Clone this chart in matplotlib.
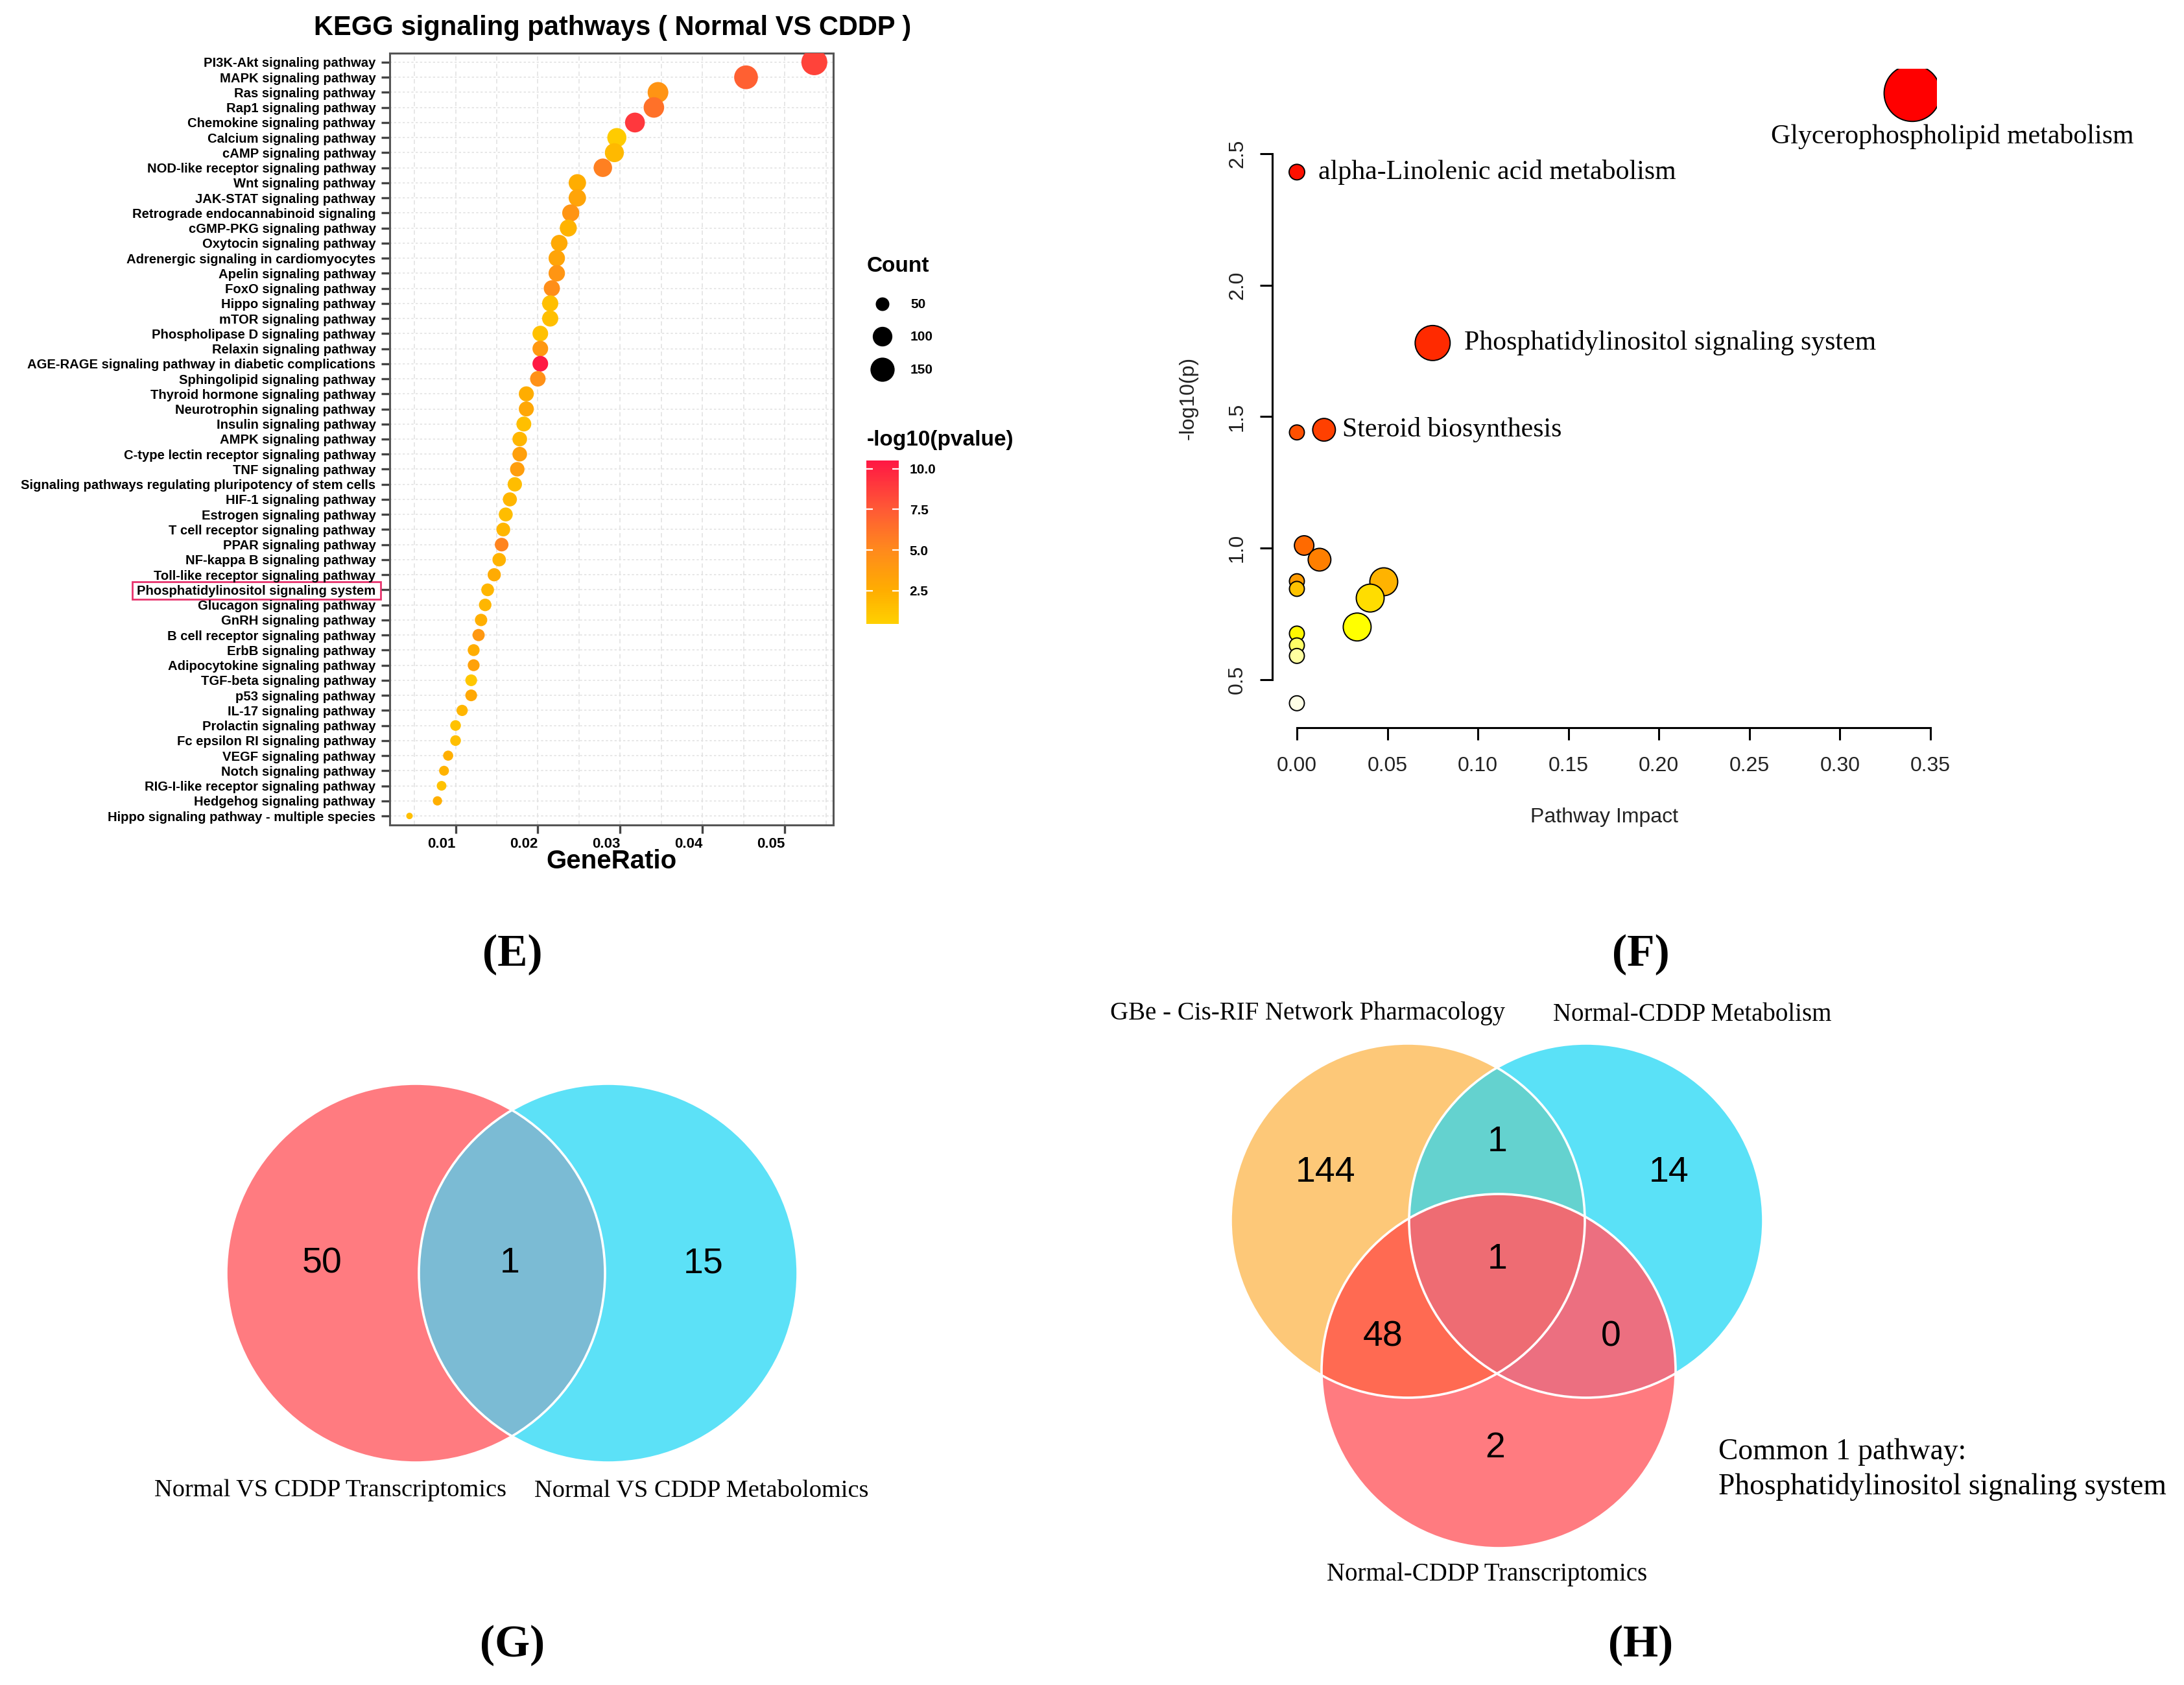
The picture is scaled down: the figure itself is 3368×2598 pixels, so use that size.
import numpy as np
import matplotlib
matplotlib.use('Agg')
import matplotlib.pyplot as plt
from matplotlib.colors import LinearSegmentedColormap, Normalize, to_rgba
from matplotlib.patches import Circle, Rectangle
import matplotlib.cm as cm

W, H = 3368, 2598
DPI = 200
PX = 72.0 / DPI  # points per pixel

SANS = ['Liberation Sans', 'DejaVu Sans']
SERIF = ['Liberation Serif', 'DejaVu Serif']

# ---------------- panel E data (KEGG dot plot) ----------------
pathways = [
    'PI3K-Akt signaling pathway', 'MAPK signaling pathway', 'Ras signaling pathway',
    'Rap1 signaling pathway', 'Chemokine signaling pathway', 'Calcium signaling pathway',
    'cAMP signaling pathway', 'NOD-like receptor signaling pathway', 'Wnt signaling pathway',
    'JAK-STAT signaling pathway', 'Retrograde endocannabinoid signaling',
    'cGMP-PKG signaling pathway', 'Oxytocin signaling pathway',
    'Adrenergic signaling in cardiomyocytes', 'Apelin signaling pathway',
    'FoxO signaling pathway', 'Hippo signaling pathway', 'mTOR signaling pathway',
    'Phospholipase D signaling pathway', 'Relaxin signaling pathway',
    'AGE-RAGE signaling pathway in diabetic complications', 'Sphingolipid signaling pathway',
    'Thyroid hormone signaling pathway', 'Neurotrophin signaling pathway',
    'Insulin signaling pathway', 'AMPK signaling pathway',
    'C-type lectin receptor signaling pathway', 'TNF signaling pathway',
    'Signaling pathways regulating pluripotency of stem cells', 'HIF-1 signaling pathway',
    'Estrogen signaling pathway', 'T cell receptor signaling pathway',
    'PPAR signaling pathway', 'NF-kappa B signaling pathway',
    'Toll-like receptor signaling pathway', 'Phosphatidylinositol signaling system',
    'Glucagon signaling pathway', 'GnRH signaling pathway',
    'B cell receptor signaling pathway', 'ErbB signaling pathway',
    'Adipocytokine signaling pathway', 'TGF-beta signaling pathway',
    'p53 signaling pathway', 'IL-17 signaling pathway', 'Prolactin signaling pathway',
    'Fc epsilon RI signaling pathway', 'VEGF signaling pathway',
    'Notch signaling pathway', 'RIG-I-like receptor signaling pathway',
    'Hedgehog signaling pathway', 'Hippo signaling pathway - multiple species',
]
gene_ratio = [0.0536, 0.0453, 0.0346, 0.0341, 0.0318, 0.0296, 0.0293, 0.0279, 0.0248,
              0.0248, 0.0240, 0.0237, 0.0226, 0.0223, 0.0223, 0.0217, 0.0215, 0.0215,
              0.0203, 0.0203, 0.0203, 0.0200, 0.0186, 0.0186, 0.0183, 0.0178, 0.0178,
              0.0175, 0.0172, 0.0166, 0.0161, 0.0158, 0.0156, 0.0153, 0.0147, 0.0139,
              0.0136, 0.0131, 0.0128, 0.0122, 0.0122, 0.0119, 0.0119, 0.0108, 0.0100,
              0.0100, 0.0091, 0.0086, 0.0083, 0.0078, 0.0044]
counts = [172, 145, 111, 109, 102, 95, 94, 89, 79, 79, 77, 76, 72, 71, 71, 69, 69, 69,
          65, 65, 65, 64, 60, 60, 59, 57, 57, 56, 55, 53, 52, 51, 50, 49, 47, 44, 43, 42,
          41, 39, 39, 38, 38, 35, 32, 32, 29, 28, 27, 25, 14]
neg_log_p = [8.5, 7.2, 4.3, 6.3, 9.0, 0.8, 1.8, 5.5, 2.5, 3.2, 4.3, 2.2, 2.8, 3.2, 4.2,
             4.7, 1.5, 1.5, 1.4, 4.0, 10.4, 4.5, 2.5, 3.0, 1.5, 2.0, 3.5, 3.6, 1.6, 2.0,
             1.6, 2.0, 5.3, 2.2, 2.7, 2.0, 2.0, 2.4, 4.0, 2.5, 3.4, 1.0, 2.9, 2.0, 1.3,
             1.5, 2.4, 2.2, 1.3, 2.4, 1.5]
count_breaks = [50, 100, 150]
p_ticks = [2.5, 5.0, 7.5, 10.0]

# ---------------- panel F data (pathway impact) ----------------
impact = [0.34, 0.0, 0.075, 0.0, 0.015, 0.004, 0.0125, 0.0, 0.0, 0.048, 0.0405,
          0.0333, 0.0, 0.0, 0.0, 0.0]
log_p = [2.73, 2.43, 1.78, 1.44, 1.45, 1.01, 0.956, 0.874, 0.845, 0.872, 0.81,
         0.70, 0.675, 0.63, 0.59, 0.41]
impact_colors = ['#FF0000', '#FF1000', '#FF2A00', '#FF5000', '#FF4000', '#FF6A00',
                 '#FF7F00', '#FF9A00', '#FFC300', '#FFB300', '#FFDD00', '#FFFF00',
                 '#FFF700', '#FFFF66', '#FFFFA0', '#FFFFE6']
impact_diam = [87, 24, 54, 23, 35, 30, 35, 23, 23, 43, 43, 43, 23, 23, 23, 23]
impact_labels = {0: 'Glycerophospholipid metabolism',
                 1: 'alpha-Linolenic acid metabolism',
                 2: 'Phosphatidylinositol signaling system',
                 4: 'Steroid biosynthesis'}

# ---------------- Venn data ----------------
venn2_sets = ['Normal VS CDDP Transcriptomics', 'Normal VS CDDP Metabolomics']
venn2_counts = {'A': 50, 'AB': 1, 'B': 15}
venn3_sets = ['GBe - Cis-RIF Network Pharmacology', 'Normal-CDDP Metabolism',
              'Normal-CDDP Transcriptomics']
venn3_counts = {'A': 144, 'AB': 1, 'B': 14, 'ABC': 1, 'AC': 48, 'BC': 0, 'C': 2}


def fig_rect(x0, y0, x1, y1):
    return [x0 / W, 1 - y1 / H, (x1 - x0) / W, (y1 - y0) / H]


fig = plt.figure(figsize=(W / DPI, H / DPI), dpi=DPI)
ov = fig.add_axes([0, 0, 1, 1])
ov.axis('off')

# ================= Panel E =================
cmap_e = LinearSegmentedColormap.from_list(
    'kegg', [(0, '#FFD000'), (0.2, '#FFAE00'), (0.45, '#FF8A1C'),
             (0.7, '#FF5A35'), (1, '#FF1744')])
norm_e = Normalize(vmin=0.46, vmax=10.5)


def dot_size(c):
    d = np.sqrt(100 + 9.49 * (np.asarray(c, float) - 14))
    return (d * PX) ** 2


axE = fig.add_axes(fig_rect(601, 82, 1285, 1272))
n = len(pathways)
ypos = np.arange(n)[::-1]
axE.scatter(gene_ratio, ypos, s=dot_size(counts), c=neg_log_p, cmap=cmap_e,
            norm=norm_e, linewidths=0, zorder=3)
axE.set_xlim(0.002, 0.0559)
axE.set_ylim(-0.6, n - 0.4)
axE.set_yticks(ypos)
axE.set_yticklabels(pathways, fontsize=7.3, fontweight='bold', family=SANS)
axE.set_xticks([0.01, 0.02, 0.03, 0.04, 0.05])
axE.set_xticklabels(['0.01', '0.02', '0.03', '0.04', '0.05'], fontsize=8,
                    fontweight='bold', family=SANS, ha='right')
axE.set_xticks(np.arange(0.005, 0.056, 0.01), minor=True)
axE.tick_params(axis='both', which='major', length=4.7, width=1.2, color='#444444',
                pad=3)
axE.tick_params(axis='x', which='major', pad=2)
axE.tick_params(axis='x', which='minor', length=0)
axE.grid(True, which='both', axis='x', ls=(0, (4, 3)), color='#E3E3E3', lw=0.6)
axE.grid(True, which='major', axis='y', ls=(0, (2, 2)), color='#E3E3E3', lw=0.6)
axE.set_axisbelow(True)
for sp in axE.spines.values():
    sp.set_color('#555555')
    sp.set_linewidth(1.1)

ov.text(945, 43, 'KEGG signaling pathways ( Normal VS CDDP )', ha='center',
        va='center', fontsize=15, fontweight='bold', family=SANS)
ov.text(943, 1328, 'GeneRatio', ha='center', va='center', fontsize=14.5,
        fontweight='bold', family=SANS)
ov.add_patch(Rectangle((204, 897), 383, 27, fill=False, ec='#E8336D', lw=1.0))

# size legend
ov.text(1337, 410, 'Count', ha='left', va='center', fontsize=12, fontweight='bold',
        family=SANS)
leg_y = [469, 519, 570]
ov.scatter([1361] * 3, leg_y, s=dot_size(count_breaks), c='black', linewidths=0)
for yy, c in zip(leg_y, count_breaks):
    ov.text(1404, yy, str(c), ha='left', va='center', fontsize=7.5, fontweight='bold',
            family=SANS)

# colour legend
ov.text(1337, 678, '-log10(pvalue)', ha='left', va='center', fontsize=12,
        fontweight='bold', family=SANS)
cax = fig.add_axes(fig_rect(1336, 710, 1386, 962))
cb = fig.colorbar(cm.ScalarMappable(norm=norm_e, cmap=cmap_e), cax=cax)
cb.outline.set_visible(False)
cb.set_ticks(p_ticks)
cb.set_ticklabels(['%.1f' % t for t in p_ticks])
cax.tick_params(left=True, right=True, labelleft=False, labelright=True,
                direction='in', length=3.5, width=0.8, color='white', pad=6,
                labelsize=7.5)
for lab in cax.get_yticklabels():
    lab.set_fontweight('bold')
    lab.set_family(SANS)

# ================= Panel F =================
axF = fig.add_axes(fig_rect(1962, 106, 2987, 1122))
axF.scatter(impact, log_p, s=(np.array(impact_diam) * PX) ** 2, c=impact_colors,
            edgecolors='black', linewidths=0.7, zorder=3)
axF.set_xlim(-0.0136, 0.3536)
axF.set_ylim(0.317, 2.823)
for k in ('top', 'right'):
    axF.spines[k].set_visible(False)
axF.spines['left'].set_bounds(0.5, 2.5)
axF.spines['bottom'].set_bounds(0.0, 0.35)
for k in ('left', 'bottom'):
    axF.spines[k].set_linewidth(1.1)
axF.set_xticks(np.arange(0, 0.351, 0.05))
axF.set_xticklabels(['%.2f' % v for v in np.arange(0, 0.351, 0.05)])
axF.set_yticks([0.5, 1.0, 1.5, 2.0, 2.5])
axF.set_yticklabels(['0.5', '1.0', '1.5', '2.0', '2.5'], rotation=90, va='center')
axF.tick_params(length=7, width=1.1, labelsize=11.5, color='black',
                labelcolor='#222222')
axF.tick_params(axis='x', pad=9)
axF.tick_params(axis='y', pad=7)
for lab in axF.get_xticklabels() + axF.get_yticklabels():
    lab.set_family(SANS)
axF.patch.set_alpha(0)

ov.text(2474, 1260, 'Pathway Impact', ha='center', va='center', fontsize=11.5,
        family=SANS, color='#222222')
ov.text(1833, 614, '-log10(p)', ha='center', va='center', fontsize=11.5,
        family=SANS, color='#222222', rotation=90)

offsets = {0: (62, 67, 'center'), 1: (33, 0, 'left'), 2: (49, 0, 'left'),
           4: (28, 0, 'left')}
for i, name in impact_labels.items():
    dx, dy, ha = offsets[i]
    axF.annotate(name, (impact[i], log_p[i]), xytext=(dx * PX, -dy * PX),
                 textcoords='offset points', ha=ha, va='center', fontsize=15.1,
                 family=SERIF)


# ================= Venn diagrams =================
def venn_image(ax, circles, colors, bbox):
    x0, y0, x1, y1 = bbox
    xs = np.arange(x0, x1) + 0.5
    ys = np.arange(y0, y1) + 0.5
    X, Y = np.meshgrid(xs, ys)
    inside = [((X - cx) ** 2 + (Y - cy) ** 2) <= r ** 2 for cx, cy, r in circles]
    img = np.zeros(X.shape + (4,))
    for key, col in colors.items():
        mask = np.ones(X.shape, bool)
        for j, letter in enumerate('ABC'[:len(circles)]):
            mask &= inside[j] if letter in key else ~inside[j]
        img[mask] = to_rgba(col)
    ax.imshow(img, extent=(x0, x1, y1, y0), origin='upper', aspect='auto',
              interpolation='nearest', zorder=1)
    for cx, cy, r in circles:
        ax.add_patch(Circle((cx, cy), r, fill=False, ec='white', lw=1.3, zorder=2))


# G
circ_g = [(641, 1963, 292), (938, 1963, 292)]
venn_image(ov, circ_g, {'A': '#FF7B80', 'B': '#5CE1F7', 'AB': '#7BBBD4'},
           (330, 1650, 1250, 2275))
ov.text(497, 1948, str(venn2_counts['A']), ha='center', va='center', fontsize=20,
        family=SANS)
ov.text(786, 1948, str(venn2_counts['AB']), ha='center', va='center', fontsize=20,
        family=SANS)
ov.text(1085, 1948, str(venn2_counts['B']), ha='center', va='center', fontsize=20,
        family=SANS)
ov.text(510, 2298, venn2_sets[0], ha='center', va='center', fontsize=13.8,
        family=SERIF)
ov.text(1082, 2298, venn2_sets[1], ha='center', va='center', fontsize=13.8,
        family=SERIF)

# H
circ_h = [(2171, 1882, 273), (2446, 1882, 273), (2311, 2114, 273)]
venn_image(ov, circ_h, {'A': '#FDC878', 'B': '#5AE1F7', 'C': '#FF7B80',
                        'AB': '#64D2CF', 'AC': '#FF6A52', 'BC': '#EC6F80',
                        'ABC': '#EE6C73'},
           (1880, 1590, 2740, 2400))
h_pos = {'A': (2044, 1808), 'AB': (2309, 1761), 'B': (2574, 1808),
         'ABC': (2309, 1942), 'AC': (2133, 2062), 'BC': (2484, 2062),
         'C': (2306, 2233)}
for key, (x, y) in h_pos.items():
    ov.text(x, y, str(venn3_counts[key]), ha='center', va='center', fontsize=20,
            family=SANS)
ov.text(2016, 1562, venn3_sets[0], ha='center', va='center', fontsize=14,
        family=SERIF)
ov.text(2610, 1564, venn3_sets[1], ha='center', va='center', fontsize=14,
        family=SERIF)
ov.text(2293, 2427, venn3_sets[2], ha='center', va='center', fontsize=14,
        family=SERIF)
ov.text(2650, 2239, 'Common 1 pathway:', ha='left', va='center', fontsize=16.4,
        family=SERIF)
ov.text(2650, 2293, 'Phosphatidylinositol signaling system', ha='left', va='center',
        fontsize=16.4, family=SERIF)

# panel letters
for lab, x, y in [('(E)', 790, 1472), ('(F)', 2530, 1472), ('(G)', 790, 2537),
                  ('(H)', 2530, 2537)]:
    ov.text(x, y, lab, ha='center', va='center', fontsize=25, fontweight='bold',
            family=SERIF)

ov.set_xlim(0, W)
ov.set_ylim(H, 0)

fig.savefig('out.png', dpi=DPI)
